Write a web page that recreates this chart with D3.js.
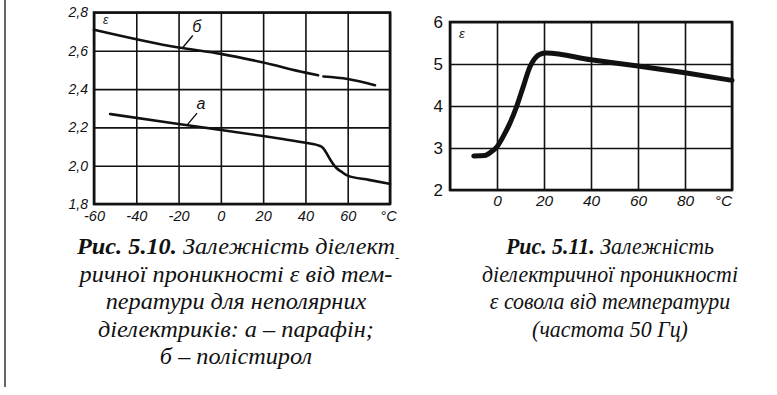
<!DOCTYPE html>
<html lang="uk">
<head>
<meta charset="UTF-8">
<title>Рис. 5.10, 5.11</title>
<script src="https://cdn.jsdelivr.net/npm/d3@7"></script>
<style>
  body { margin: 0; background: #fff; }
  svg { display: block; }
  .tick text { font-family: "Liberation Sans", Arial, sans-serif; font-style: italic; fill: #111; }
  .cap { font-family: "Liberation Serif", "Times New Roman", serif; font-style: italic; fill: #111; }
</style>
</head>
<body>
<script>
// ---- data: fig 5.10 (неполярні діелектрики) ----
var tempTicks1 = [-60, -40, -20, 0, 20, 40, 60, 80]
var epsTicks1 = [1.8, 2.0, 2.2, 2.4, 2.6, 2.8]
// б – полістирол (gap near 47 °C as in the print)
var polystyrene = [
  [-60, 2.71], [-20, 2.617], [0, 2.584], [20, 2.539], [40, 2.486], [46, 2.472],
  null,
  [48.5, 2.466], [60, 2.453], [72.9, 2.42]
]
// а – парафін
var paraffin = [
  [-52.4, 2.27], [-20, 2.218], [0, 2.187], [20, 2.155], [30, 2.138], [40, 2.12],
  [47, 2.103], [48.5, 2.091], [50, 2.065], [52, 2.027], [54, 1.995], [57, 1.969],
  [60, 1.948], [70, 1.926], [80, 1.905]
]

// ---- data: fig 5.11 (совол, 50 Гц) ----
var tempTicks2 = [-20, 0, 20, 40, 60, 80, 100]
var epsTicks2 = [2, 3, 4, 5, 6]
var sovol = [
  [-9.9, 2.81], [-5.2, 2.82], [-2.4, 2.91], [0, 3.03], [2.6, 3.27], [5.4, 3.58],
  [8.3, 3.98], [11.1, 4.45], [14, 4.93], [16.1, 5.13], [18.2, 5.23], [21, 5.26],
  [40, 5.1], [60, 4.95], [80, 4.79], [100, 4.61]
]

// ---- captions (bold part, italic part) ----
var caption1 = [
  ['Рис. 5.10.', ' Залежність діелект'],
  ['', 'ричної проникності ε від тем-'],
  ['', 'ператури для неполярних'],
  ['', 'діелектриків: а – парафін;'],
  ['', 'б – полістирол']
]
var caption2 = [
  ['Рис. 5.11.', ' Залежність'],
  ['', 'діелектричної проникності'],
  ['', 'ε совола від температури'],
  ['', '(частота 50 Гц)']
]

var width = 777
    height = 395
    svg = d3.select('body').append('svg')
      .attr('width', width)
      .attr('height', height)

// page edge on the left
svg.append('line')
  .attr('x1', 5).attr('x2', 5).attr('y1', 0).attr('y2', 387)
  .attr('stroke', '#333').attr('stroke-width', 1.5)

function drawPanel(opt) {
  var x = d3.scaleLinear().domain(opt.xDomain).range([opt.left, opt.right])
      y = d3.scaleLinear().domain(opt.yDomain).range([opt.bottom, opt.top])
      g = svg.append('g')
      last = opt.xTicks[opt.xTicks.length - 1]

  // vertical grid + x labels
  var xa = g.append('g')
    .attr('transform', 'translate(0,' + opt.bottom + ')')
    .call(d3.axisBottom(x)
      .tickValues(opt.xTicks)
      .tickSize(-(opt.bottom - opt.top))
      .tickPadding(opt.xPad)
      .tickFormat(function (d) {
        if (d === last) return '°C'
        if (opt.hideFirstX && d === opt.xTicks[0]) return ''
        return d
      }))
  xa.select('.domain').remove()
  xa.selectAll('.tick line').attr('stroke', '#111').attr('stroke-width', 1.6)
  xa.selectAll('.tick text').style('font-size', opt.xFont + 'px')
    .attr('dx', function (d) { return d === last ? opt.unitDx : 0 })

  // horizontal grid + y labels
  var ya = g.append('g')
    .attr('transform', 'translate(' + opt.left + ',0)')
    .call(d3.axisLeft(y)
      .tickValues(opt.yTicks)
      .tickSize(-(opt.right - opt.left))
      .tickPadding(opt.yPad)
      .tickFormat(opt.yFormat))
  ya.select('.domain').remove()
  ya.selectAll('.tick line').attr('stroke', '#111').attr('stroke-width', 1.6)
  ya.selectAll('.tick text').style('font-size', opt.yFont + 'px')
    .style('font-style', opt.yItalic ? 'italic' : 'normal')

  // frame
  g.append('rect')
    .attr('x', opt.left).attr('y', opt.top)
    .attr('width', opt.right - opt.left).attr('height', opt.bottom - opt.top)
    .attr('fill', 'none').attr('stroke', '#111').attr('stroke-width', 2.6)

  // ε axis name
  g.append('text')
    .attr('x', opt.left + opt.epsDx).attr('y', opt.top + opt.epsDy)
    .attr('font-family', '"Liberation Sans", Arial, sans-serif')
    .attr('font-style', 'italic').attr('font-size', opt.epsFont)
    .attr('fill', '#111')
    .text('ε')

  var line = d3.line()
    .defined(function (d) { return d !== null })
    .x(function (d) { return x(d[0]) })
    .y(function (d) { return y(d[1]) })
    .curve(d3.curveMonotoneX)

  opt.series.forEach(function (s) {
    g.append('path')
      .datum(s.values)
      .attr('d', line)
      .attr('fill', 'none')
      .attr('stroke', '#111')
      .attr('stroke-width', s.width)
      .attr('stroke-linecap', 'round')
      .attr('stroke-linejoin', 'round')

    if (s.label) {
      var p = s.label.at
      g.append('line')
        .attr('x1', x(p[0])).attr('y1', y(p[1]))
        .attr('x2', x(p[0]) + 10).attr('y2', y(p[1]) - 12)
        .attr('stroke', '#111').attr('stroke-width', 1.4)
      g.append('text')
        .attr('x', x(p[0]) + 14).attr('y', y(p[1]) - 16)
        .attr('font-family', '"Liberation Sans", Arial, sans-serif')
        .attr('font-style', 'italic').attr('font-size', 16)
        .attr('text-anchor', 'middle')
        .attr('fill', '#111')
        .text(s.label.text)
    }
  })
}

drawPanel({
  xDomain: [-60, 80], yDomain: [1.8, 2.8],
  left: 94, right: 390, top: 12.5, bottom: 204,
  xTicks: tempTicks1, yTicks: epsTicks1,
  yFormat: function (d) { return d3.format('.1f')(d).replace('.', ',') },
  xPad: 7, yPad: 6, xFont: 14.5, yFont: 14, yItalic: true, unitDx: -2,
  epsDx: 9, epsDy: 11, epsFont: 12,
  series: [
    { values: polystyrene, width: 2.6, label: { text: 'б', at: [-18, 2.617] } },
    { values: paraffin, width: 2.6, label: { text: 'а', at: [-16, 2.212] } }
  ]
})

drawPanel({
  xDomain: [-20, 100], yDomain: [2, 6],
  left: 450, right: 732, top: 22, bottom: 190,
  xTicks: tempTicks2, yTicks: epsTicks2, hideFirstX: true,
  yFormat: function (d) { return d },
  xPad: 5, yPad: 7, xFont: 15.5, yFont: 17, yItalic: false, unitDx: -9,
  epsDx: 9, epsDy: 16, epsFont: 13,
  series: [
    { values: sovol, width: 5 }
  ]
})

// caption block: one common horizontal squeeze so the widest line fits maxW
function drawCaption(lines, maxW, cx, y0) {
  var t = svg.append('g')
      texts = []
  lines.forEach(function (l, i) {
    var tx = t.append('text')
      .attr('class', 'cap')
      .attr('x', cx).attr('y', y0 + i * 27.5)
      .attr('text-anchor', 'middle')
      .attr('font-size', 24)
    if (l[0]) tx.append('tspan').attr('font-weight', 'bold').text(l[0])
    tx.append('tspan').text(l[1])
    texts.push(tx)
  })
  var natural = texts.map(function (tx) { return tx.node().getComputedTextLength() })
      k = maxW / d3.max(natural)
  texts.forEach(function (tx, i) {
    tx.attr('textLength', natural[i] * k).attr('lengthAdjust', 'spacingAndGlyphs')
  })
}

drawCaption(caption1, 318, 236, 254)
drawCaption(caption2, 256, 610, 254)

// stray hyphen mark printed after "діелект"
svg.append('text')
  .attr('class', 'cap')
  .attr('x', 395).attr('y', 262)
  .attr('font-size', 13)
  .text('-')
</script>
</body>
</html>
